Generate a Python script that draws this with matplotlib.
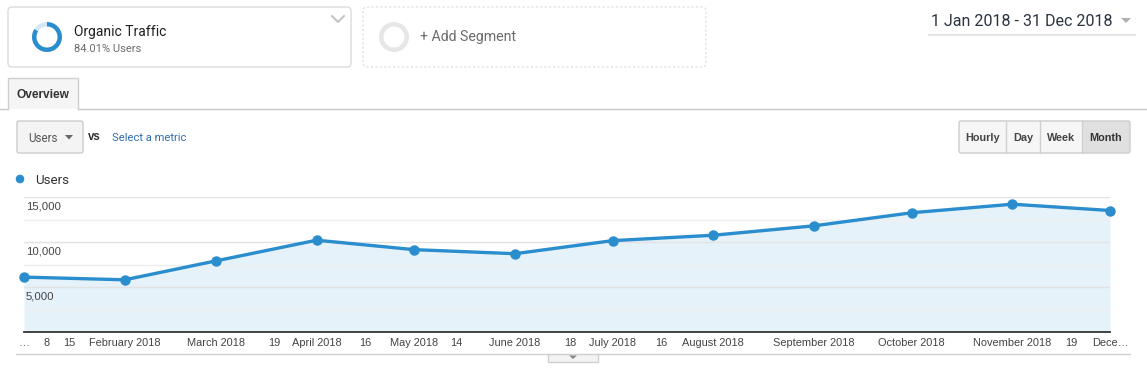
import matplotlib
matplotlib.use("Agg")
import matplotlib.pyplot as plt
import matplotlib.dates as mdates
from matplotlib.patches import FancyBboxPatch, Rectangle, Wedge, Circle, Polygon
import numpy as np

# ---------------- data ----------------
months = ['2018-01-01', '2018-02-01', '2018-03-01', '2018-04-01', '2018-05-01', '2018-06-01',
          '2018-07-01', '2018-08-01', '2018-09-01', '2018-10-01', '2018-11-01', '2018-12-01']
users = [6100, 5800, 7900, 10200, 9150, 8700, 10150, 10750, 11800, 13250, 14200, 13500]

tick_dates = ['2018-01-01', '2018-01-08', '2018-01-15', '2018-02-01', '2018-03-01', '2018-03-19',
              '2018-04-01', '2018-04-16', '2018-05-01', '2018-05-14', '2018-06-01', '2018-06-18',
              '2018-07-01', '2018-07-16', '2018-08-01', '2018-09-01', '2018-10-01', '2018-11-01',
              '2018-11-19', '2018-12-01']
tick_labels = ['…', '8', '15', 'February 2018', 'March 2018', '19', 'April 2018', '16',
               'May 2018', '14', 'June 2018', '18', 'July 2018', '16', 'August 2018',
               'September 2018', 'October 2018', 'November 2018', '19', 'Dece…']

y_ticks = [5000, 10000, 15000]
y_minor = [2500, 7500, 12500]

segment_name = 'Organic Traffic'
segment_share = 84.01
date_range = '1 Jan 2018 - 31 Dec 2018'
buttons = ['Hourly', 'Day', 'Week', 'Month']

# ---------------- figure ----------------
W, H = 1147, 378
fig = plt.figure(figsize=(W / 100, H / 100), dpi=100)
fig.patch.set_facecolor('white')

ui = fig.add_axes([0, 0, 1, 1])
ui.set_xlim(0, W)
ui.set_ylim(H, 0)
ui.axis('off')

BLUE = '#2a8dcd'
ROBOTO = ['Roboto', 'DejaVu Sans']
ARIAL = ['Liberation Sans', 'DejaVu Sans']

# segment box
ui.add_patch(FancyBboxPatch((8, 7), 343, 60, boxstyle='round,pad=0,rounding_size=4',
                            fc='white', ec='#dcdcdc', lw=1))
light = segment_share / 100.0
gap = (1 - light) * 360
ui.add_patch(Wedge((47, 37), 15, 270 - gap, 270, width=4.5, fc='#d3e8f6', ec='none'))
ui.add_patch(Wedge((47, 37), 15, -90, 270 - gap, width=4.5, fc=BLUE, ec='none'))
ui.text(74, 32, segment_name, fontsize=10, family=ROBOTO, color='#212121', va='center')
ui.text(74, 49, f'{segment_share:.2f}% Users', fontsize=8, family=ROBOTO, color='#6b6b6b', va='center')
ui.plot([332, 338, 344], [16, 22, 16], color='#c8c8c8', lw=1.6, solid_capstyle='round')

# add segment box
ui.add_patch(FancyBboxPatch((363, 7), 343, 60, boxstyle='round,pad=0,rounding_size=4',
                            fc='white', ec='#dadada', lw=0.8, ls=(0, (2, 2))))
ui.add_patch(Wedge((394, 37), 15, 0, 360, width=4.5, fc='#e6e6e6', ec='none'))
ui.text(420, 37, '+ Add Segment', fontsize=10.2, family=ROBOTO, color='#6b6b6b', va='center')

# date range
ui.text(931, 21.5, date_range, fontsize=11.5, family=ROBOTO, color='#2a3340', va='center')
ui.add_patch(Polygon([[1121, 18], [1131, 18], [1126, 23]], closed=True, fc='#b0b0b0', ec='none'))
ui.plot([929, 1135], [34.5, 34.5], color='#e6e6e6', lw=1.6)

# overview tab
ui.plot([0, 8], [108.5, 108.5], color='#c8c8c8', lw=1)
ui.plot([78, W], [108.5, 108.5], color='#c8c8c8', lw=1)
ui.add_patch(Rectangle((8, 78), 70, 30.5, fc='#f5f5f5', ec='none'))
ui.plot([8, 8, 78, 78], [108.5, 78, 78, 108.5], color='#cfcfcf', lw=1)
ui.text(43, 95, 'Overview', fontsize=8.6, family=ARIAL, weight='bold', color='#333333',
        ha='center', va='center')

# metric dropdown
ui.add_patch(FancyBboxPatch((17, 121), 66, 32, boxstyle='round,pad=0,rounding_size=2',
                            fc='#f4f4f4', ec='#cccccc', lw=1))
ui.text(28, 138, 'Users', fontsize=8.4, family=ROBOTO, color='#555555', va='center')
ui.add_patch(Polygon([[65, 135], [73, 135], [69, 139.5]], closed=True, fc='#666666', ec='none'))
ui.text(88, 137, 'vs', fontsize=8.3, family=ARIAL, weight='bold', color='#333333', va='center')
ui.text(112, 138, 'Select a metric', fontsize=8.1, family=ROBOTO, color='#2d6db3', va='center')

# time buttons
bx = [959, 1006, 1040, 1082, 1130]
for i, name in enumerate(buttons):
    fc = '#e0e0e0' if name == 'Month' else '#f6f6f6'
    ui.add_patch(Rectangle((bx[i], 121), bx[i + 1] - bx[i], 32, fc=fc, ec='none'))
    ui.text((bx[i] + bx[i + 1]) / 2, 138, name, fontsize=7.8, family=ARIAL, weight='bold',
            color='#444444' if name != 'Month' else '#333333', ha='center', va='center')
ui.add_patch(FancyBboxPatch((959, 121), 171, 32, boxstyle='round,pad=0,rounding_size=2',
                            fc='none', ec='#cccccc', lw=1))
for xs in bx[1:-1]:
    ui.plot([xs, xs], [121, 153], color='#d0d0d0', lw=1)

# legend
ui.add_patch(Circle((20, 179), 4.3, fc=BLUE, ec='none'))
ui.text(35, 180, 'Users', fontsize=9.6, family=ROBOTO, color='#333333', va='center')

# bottom rule and tab
ui.plot([16, 548], [353.5, 353.5], color='#cfcfcf', lw=1)
ui.plot([598, 1130], [353.5, 353.5], color='#cfcfcf', lw=1)
ui.add_patch(Rectangle((548, 353.5), 50, 8.5, fc='#f3f3f3', ec='#cfcfcf', lw=1))
ui.add_patch(Polygon([[569, 355.5], [577, 355.5], [573, 359]], closed=True, fc='#888888', ec='none'))

# ---------------- chart ----------------
x0, x1, ytop, ybot = 24, 1110, 197, 332
ax = fig.add_axes([x0 / W, 1 - ybot / H, (x1 - x0) / W, (ybot - ytop) / H])
ax.patch.set_alpha(0)

dates = mdates.datestr2num(months)
ax.fill_between(dates, users, 0, color='#e6f2f9', lw=0, zorder=1)
ax.plot(dates, users, color=BLUE, lw=2.4, marker='o', markersize=6.5, clip_on=False, zorder=4)

ax.set_xlim(dates[0], dates[-1])
ax.set_ylim(0, 15000)

ax.set_yticks(y_ticks)
ax.set_yticks(y_minor, minor=True)
ax.yaxis.grid(True, which='major', color='#e2e2e2', lw=1)
ax.yaxis.grid(True, which='minor', color='#efefef', lw=1)
ax.set_axisbelow(False)
for ln in ax.get_ygridlines():
    ln.set_zorder(2)
ax.tick_params(axis='y', which='both', left=False, labelleft=False)

for v in y_ticks:
    ax.annotate(f'{v:,}', xy=(0, v), xycoords=ax.get_yaxis_transform(), xytext=(1.5, -3),
                textcoords='offset points', ha='left', va='top', fontsize=8.2,
                family=ARIAL, color='#444444', zorder=5)

ax.set_xticks(mdates.datestr2num(tick_dates))
ax.set_xticklabels(tick_labels, fontsize=7.9, family=ARIAL, color='#444444')
ax.tick_params(axis='x', length=0, pad=4.5)

for s in ['top', 'right', 'left']:
    ax.spines[s].set_visible(False)
ax.spines['bottom'].set_color('#333333')
ax.spines['bottom'].set_linewidth(1.3)
ax.spines['bottom'].set_zorder(6)

fig.savefig('out.png', dpi=100, facecolor='white')
